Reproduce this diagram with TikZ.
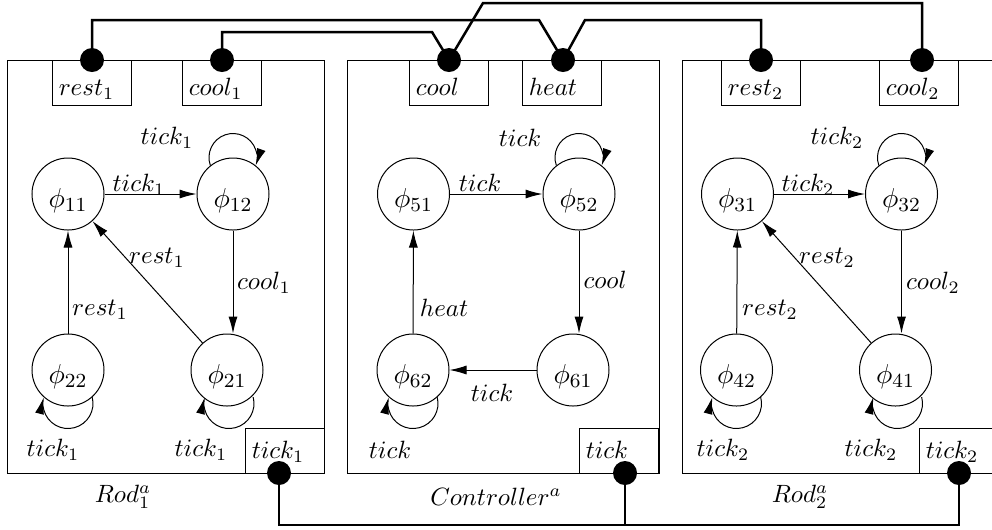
\documentclass[tikz,border=0pt]{standalone}
\usetikzlibrary{arrows.meta,calc}
\begin{document}
\begin{tikzpicture}[x=0.4pt,y=0.4pt,
  state/.style={draw, circle, thin, minimum size=28.8pt, inner sep=0pt, font=\fontsize{11}{13}\selectfont, text height=12pt, text depth=1.6pt},
  modbox/.style={draw, thin, rectangle, anchor=north west, inner sep=0pt},
  porttop/.style={draw, thin, rectangle, anchor=north west, minimum width=31.6pt, minimum height=18pt, text width=26.6pt, inner xsep=2.5pt, inner ysep=0pt, align=left, text height=12pt, text depth=2pt},
  portbot/.style={porttop, text height=8pt},
  dot/.style={circle, fill=black, inner sep=0pt, minimum size=9.6pt},
  conn/.style={line width=1pt},
  arr/.style={thin, -{Latex[length=6.8pt,width=3.6pt]}},
  lbl/.style={inner sep=0pt}]
\useasboundingbox (0,0) rectangle (992,-529);
\clip (0,0) rectangle (992,-529);

% modules
\node[modbox, minimum width=126.8pt, minimum height=165.2pt] (rod1) at (7,-60) {};
\node[modbox, minimum width=124.8pt, minimum height=165.2pt] (ctrl) at (347,-60) {};
\node[modbox, minimum width=126.8pt, minimum height=165.2pt] (rod2) at (682,-60) {};

% ports
\node[porttop] (prest1) at (52,-60) {$rest_1$};
\node[porttop] (pcool1) at (182,-60) {$cool_1$};
\node[portbot] (ptick1) at (245,-428) {$tick_1$};
\node[porttop] (pcool) at (409,-60) {$cool$};
\node[porttop] (pheat) at (522,-60) {$heat$};
\node[portbot] (ptick) at (579,-428) {$tick$};
\node[porttop] (prest2) at (721,-60) {$rest_2$};
\node[porttop] (pcool2) at (879,-60) {$cool_2$};
\node[portbot] (ptick2) at (919,-428) {$tick_2$};

% dots
\node[dot] (drest1) at (92,-60) {};
\node[dot] (dcool1) at (222,-60) {};
\node[dot] (dcool) at (449,-60) {};
\node[dot] (dheat) at (563,-60) {};
\node[dot] (drest2) at (761,-60) {};
\node[dot] (dcool2) at (922,-60) {};
\node[dot] (dtick1) at (279,-473) {};
\node[dot] (dtick) at (625,-473) {};
\node[dot] (dtick2) at (959,-473) {};
\coordinate (bus) at (0,-525);

% connectors
\draw[conn] (drest1.center) |- (539,-20) -- (dheat.center);
\draw[conn] (dcool1.center) |- (432,-32) -- (dcool.center);
\draw[conn] (dcool.center) -- (483,-3) -| (dcool2.center);
\draw[conn] (dheat.center) -- (585,-20) -| (drest2.center);
\draw[conn] (dtick1.center) |- (dtick2.center |- bus) -- (dtick2.center);
\draw[conn] (dtick.center) -- (dtick.center |- bus);

% Rod 1
\node[state] (p11) at (68,-194) {$\phi_{11}$};
\node[state] (p12) at (233,-194) {$\phi_{12}$};
\node[state] (p22) at (68,-370) {$\phi_{22}$};
\node[state] (p21) at (227,-370) {$\phi_{21}$};
\draw[arr] (p11) -- (p12);
\draw[arr] (p12.south) -- (p12.south |- p21.north);
\draw[arr] (p21) -- (p11);
\draw[arr] (p22) -- (p11);
\draw[arr] (p12.north) ++(199.5:9.6pt) arc[start angle=199.5, end angle=-19.5, radius=9.6pt];
\draw[arr] (p22.south) ++(0,3) ++(14.7:10pt) arc[start angle=14.7, end angle=-194.7, radius=10pt];
\draw[arr] (p21.south) ++(2,3) ++(14.7:10pt) arc[start angle=14.7, end angle=-194.7, radius=10pt];
\node[lbl] (l1) at (167,-138) {$tick_1$};
\node[lbl] (l2) at (139,-185) {$tick_1$};
\node[lbl] (l3) at (157,-258) {$rest_1$};
\node[lbl] (l4) at (264,-283) {$cool_1$};
\node[lbl] (l5) at (100,-310) {$rest_1$};
\node[lbl] (l6) at (53,-450) {$tick_1$};
\node[lbl] (l7) at (201,-450) {$tick_1$};

% Controller
\node[state] (p51) at (413.5,-194) {$\phi_{51}$};
\node[state] (p52) at (579,-194) {$\phi_{52}$};
\node[state] (p62) at (413,-370) {$\phi_{62}$};
\node[state] (p61) at (573,-370) {$\phi_{61}$};
\draw[arr] (p51) -- (p52);
\draw[arr] (p52.south) -- (p52.south |- p61.north);
\draw[arr] (p61) -- (p62);
\draw[arr] (p62) -- (p51);
\draw[arr] (p52.north) ++(199.5:9.6pt) arc[start angle=199.5, end angle=-19.5, radius=9.6pt];
\draw[arr] (p62.south) ++(0,3) ++(14.7:10pt) arc[start angle=14.7, end angle=-194.7, radius=10pt];
\node[lbl] (c1) at (520,-138) {$tick$};
\node[lbl] (c2) at (480,-183) {$tick$};
\node[lbl] (c3) at (605,-280) {$cool$};
\node[lbl] (c4) at (444,-308) {$heat$};
\node[lbl] (c5) at (492,-393) {$tick$};
\node[lbl] (c6) at (390,-450) {$tick$};

% Rod 2
\node[state] (p31) at (737.5,-194) {$\phi_{31}$};
\node[state] (p32) at (901.5,-194) {$\phi_{32}$};
\node[state] (p42) at (736.5,-370) {$\phi_{42}$};
\node[state] (p41) at (895.5,-370) {$\phi_{41}$};
\draw[arr] (p31) -- (p32);
\draw[arr] (p32.south) -- (p32.south |- p41.north);
\draw[arr] (p41) -- (p31);
\draw[arr] (p42) -- (p31);
\draw[arr] (p32.north) ++(199.5:9.6pt) arc[start angle=199.5, end angle=-19.5, radius=9.6pt];
\draw[arr] (p42.south) ++(0,3) ++(14.7:10pt) arc[start angle=14.7, end angle=-194.7, radius=10pt];
\draw[arr] (p41.south) ++(2,3) ++(14.7:10pt) arc[start angle=14.7, end angle=-194.7, radius=10pt];
\node[lbl] (r1) at (837,-138) {$tick_2$};
\node[lbl] (r2) at (808,-185) {$tick_2$};
\node[lbl] (r3) at (827,-258) {$rest_2$};
\node[lbl] (r4) at (933,-283) {$cool_2$};
\node[lbl] (r5) at (770,-310) {$rest_2$};
\node[lbl] (r6) at (723,-450) {$tick_2$};
\node[lbl] (r7) at (871,-450) {$tick_2$};

% module names
\node[lbl] (nrod1) at (123,-497) {$Rod_1^a$};
\node[lbl] (nctrl) at (496,-497) {$Controller^a$};
\node[lbl] (nrod2) at (800,-497) {$Rod_2^a$};
\end{tikzpicture}
\end{document}
